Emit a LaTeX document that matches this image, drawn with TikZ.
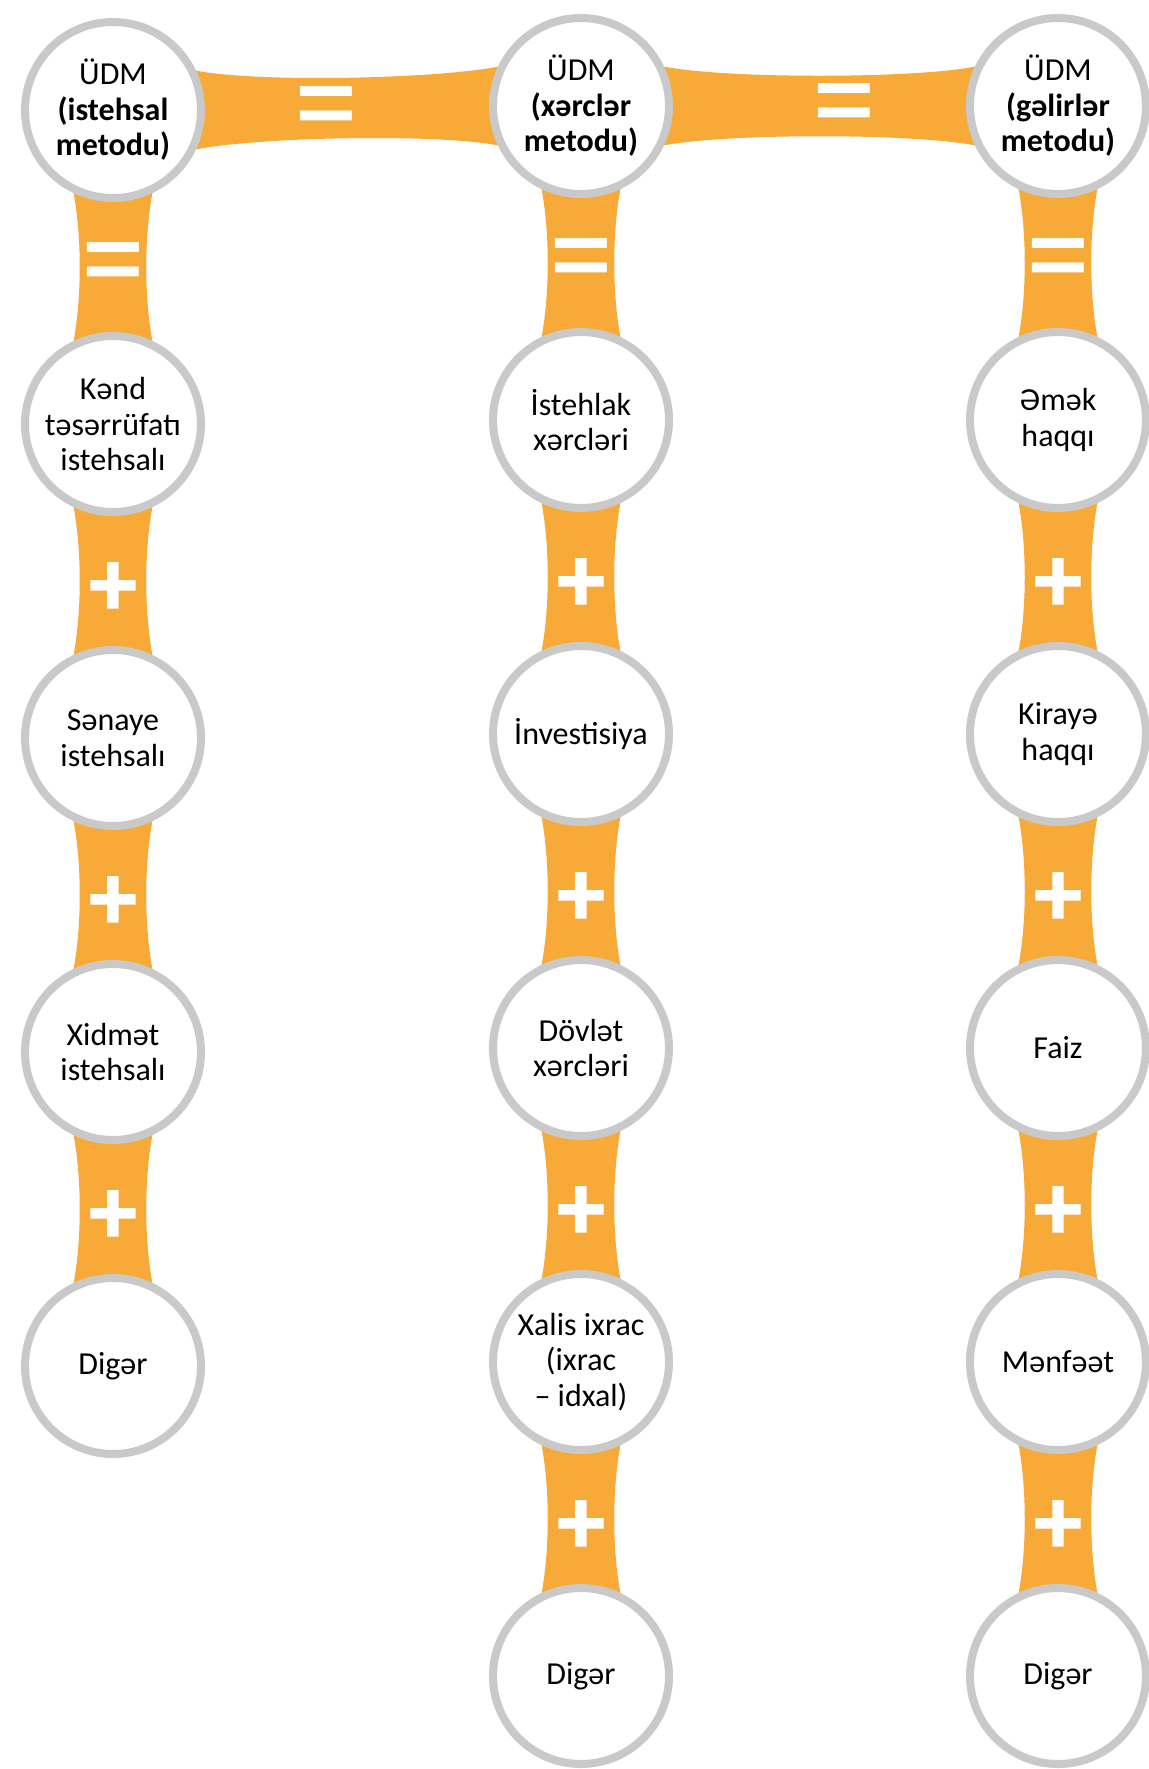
\documentclass[tikz,border=0pt]{standalone}
\usepackage{fontspec}
\setmainfont{Carlito}
\newfontfamily\signfont{Carlito}[BoldFeatures={FakeBold=2}]
\usepackage{tikz}
\usetikzlibrary{positioning, calc, backgrounds}
\definecolor{udmBand}{RGB}{247,170,56}
\definecolor{udmRing}{RGB}{201,201,201}

% vertical link: top node, bottom node, sign style, sign
\newcommand{\vlink}[4]{%
  \begin{pgfonlayer}{background}
    \fill[band] ($(#1)+(-40,80)$) .. controls ($(#1)+(-31,125)$) and ($(#2)+(-31,-125)$) .. ($(#2)+(-40,-80)$)
      -- ($(#2)+(40,-80)$) .. controls ($(#2)+(31,-125)$) and ($(#1)+(31,125)$) .. ($(#1)+(40,80)$) -- cycle;
  \end{pgfonlayer}
  \node[#3] (#1-#2) at ($(#1)!.5!(#2)$) {#4};}
% horizontal link: left node, right node, where the sign sits
\newcommand{\hlink}[3]{%
  \begin{pgfonlayer}{background}
    \fill[band] ($(#1)+(80,-40)$) .. controls ($(#1)+(140,-27)$) and ($(#2)+(-140,-27)$) .. ($(#2)+(-80,-40)$)
      -- ($(#2)+(-80,40)$) .. controls ($(#2)+(-140,27)$) and ($(#1)+(140,27)$) .. ($(#1)+(80,40)$) -- cycle;
  \end{pgfonlayer}
  \node[eq, yshift=-1pt] (#1-#2) at ($(#1)!#3!(#2)$) {\scalebox{1}[1.2]{=}};}

\begin{document}
\begin{tikzpicture}[
    x=0.5pt, y=-0.5pt,
    node distance=65pt and 142pt,
    disc/.style={circle, draw=udmRing, line width=4pt, fill=white, minimum size=88pt,
      inner sep=0pt, align=center, font=\fontsize{16}{17.75}\selectfont},
    band/.style={fill=udmBand},
    eq/.style={text=white, inner sep=0pt, yshift=-4.5pt, font=\fontsize{64}{64}\selectfont},
    pl/.style={text=white, inner sep=0pt, yshift=-4pt, font=\signfont\fontsize{47}{47}\selectfont\bfseries}
  ]
    \useasboundingbox (0,0) rectangle (1148,1769);
    % top row
    \node[disc] (p1) at (113,110) {ÜDM\\\textbf{(istehsal}\\\textbf{metodu)}};
    \node[disc, right=of p1, yshift=2pt] (x1) {ÜDM\\\textbf{(xərclər}\\\textbf{metodu)}};
    \node[disc, right=146.5pt of x1] (g1) {ÜDM\\\textbf{(gəlirlər}\\\textbf{metodu)}};
    % production
    \node[disc, below=of p1] (p2) {Kənd\\təsərrüfatı\\istehsalı};
    \node[disc, below=of p2] (p3) {Sənaye\\istehsalı};
    \node[disc, below=of p3] (p4) {Xidmət\\istehsalı};
    \node[disc, below=of p4] (p5) {Digər};
    % expenditure
    \node[disc, below=of x1] (x2) {İstehlak\\xərcləri};
    \node[disc, below=of x2] (x3) {İnvestisiya};
    \node[disc, below=of x3] (x4) {Dövlət\\xərcləri};
    \node[disc, below=of x4] (x5) {Xalis ixrac\\(ixrac\\– idxal)};
    \node[disc, below=of x5] (x6) {Digər};
    % income
    \node[disc, below=of g1] (g2) {Əmək\\haqqı};
    \node[disc, below=of g2] (g3) {Kirayə\\haqqı};
    \node[disc, below=of g3] (g4) {Faiz};
    \node[disc, below=of g4] (g5) {Mənfəət};
    \node[disc, below=of g5] (g6) {Digər};
    \hlink{p1}{x1}{.455}
    \hlink{x1}{g1}{.553}
    \vlink{p1}{p2}{eq}{\scalebox{1}[1.2]{=}} \vlink{p2}{p3}{pl}{+} \vlink{p3}{p4}{pl}{+} \vlink{p4}{p5}{pl}{+}
    \vlink{x1}{x2}{eq}{\scalebox{1}[1.2]{=}} \vlink{x2}{x3}{pl}{+} \vlink{x3}{x4}{pl}{+} \vlink{x4}{x5}{pl}{+} \vlink{x5}{x6}{pl}{+}
    \vlink{g1}{g2}{eq}{\scalebox{1}[1.2]{=}} \vlink{g2}{g3}{pl}{+} \vlink{g3}{g4}{pl}{+} \vlink{g4}{g5}{pl}{+} \vlink{g5}{g6}{pl}{+}
  \end{tikzpicture}
\end{document}
